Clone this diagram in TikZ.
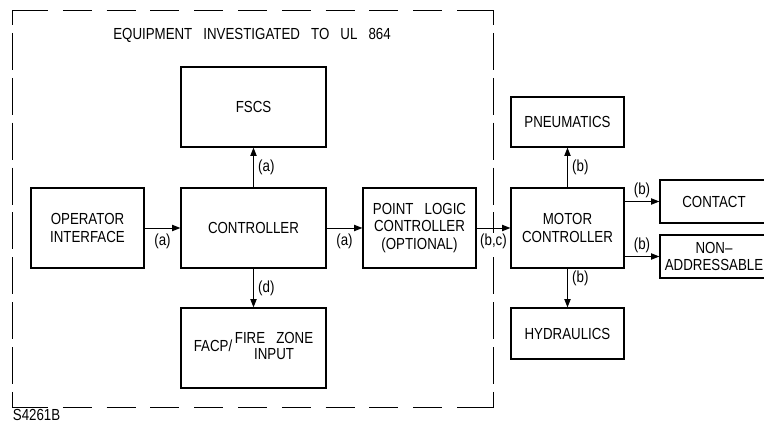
\documentclass[tikz,border=0pt]{standalone}
\usepackage{fontspec}
\setmainfont{Liberation Sans}[FakeStretch=0.83,WordSpace=3]
\usepackage{tikz}
\usetikzlibrary{arrows.meta,positioning,calc}
\definecolor{cInk}{HTML}{000000}

\begin{document}
\begin{tikzpicture}[
  font=\fontsize{11.4}{12.4}\selectfont,
  ar/.style={-{Triangle[length=6pt,width=4.5pt]},line width=0.7pt,color=cInk},
  edge/.style={line width=0.7pt,color=cInk},
  hdash/.style={edge,dash pattern=on 0.725cm off 0.37cm,dash phase=0.725cm},
  vdash/.style={edge,dash pattern=on 0.925cm off 0.1975cm,dash phase=0.925cm},
  blk/.style={draw,line width=0.8pt,color=cInk,align=center,inner sep=2pt,
              minimum width=2.825cm,minimum height=2cm},
  wide/.style={blk,minimum width=3.625cm},
  flat/.style={blk,minimum width=2.7cm,minimum height=1.075cm},
  lbl/.style={inner sep=1pt,color=cInk},
]
\useasboundingbox (0,0) rectangle (19.1,10.675);

% ====================================================== UL 864 frame
% corners solid, sides dashed
\draw[edge] (0.3,10.05) |- (1.2,10.425);
\draw[edge] (0.3,0.875) |- (1.2,0.5);
\draw[edge] (12.325,10.05) |- (11.425,10.425);
\draw[edge] (12.325,0.875) |- (11.425,0.5);
\foreach \y in {10.425,0.5}
  \draw[hdash] (1.2,\y) -- (11.425,\y);
\foreach \x in {0.3,12.325}
  \draw[vdash] (\x,10.05) -- (\x,0.875);
\node[lbl] (title) at (6.3,9.8) {EQUIPMENT INVESTIGATED TO UL 864};

% -- inside the frame
\node[blk]  (oper) at (2.1875,4.975) {OPERATOR\\INTERFACE};
\node[wide] (ctrl) at (6.3375,4.975) {CONTROLLER};
\node[wide] (fscs) at (6.3375,8.0) {FSCS};
\node[wide] (facp) at (6.3375,1.975)
  {FACP/\,\begin{tabular}{@{}c@{}}FIRE ZONE\\[-1pt]INPUT\end{tabular}};
\node[blk]  (plc)  at (10.4875,4.975) {POINT LOGIC\\CONTROLLER\\(OPTIONAL)};

% -- outside the frame
\node[blk] (motor) at (14.1875,4.975) {MOTOR\\CONTROLLER};
\node[blk,minimum height=1.25cm]  (pneu) at (14.1875,7.625) {PNEUMATICS};
\node[blk,minimum height=1.275cm] (hydr) at (14.1875,2.3375) {HYDRAULICS};
\node[flat] (contact) at (17.85,5.6375) {CONTACT};
\node[flat] (nonadd)  at (17.85,4.2625) {NON--\\ADDRESSABLE};

% flow arrows
\draw[ar] (oper.east) -- (ctrl.west) node[midway,below=3pt,lbl]{(a)};
\draw[ar] (ctrl.north) -- (fscs.south) node[midway,right=2pt,lbl]{(a)};
\draw[ar] (ctrl.south) -- (facp.north) node[midway,right=2pt,lbl]{(d)};
\draw[ar] (ctrl.east) -- (plc.west) node[midway,below=3pt,lbl]{(a)};
\draw[ar] (plc.east) -- (motor.west) node[midway,below=3pt,lbl,fill=white]{(b,c)};
\draw[ar] (motor.north) -- (pneu.south) node[midway,right=2pt,lbl]{(b)};
\draw[ar] (motor.south) -- (hydr.north) node[pos=0.25,right=2pt,lbl]{(b)};
\draw[ar] (motor.east |- contact.west) -- (contact.west) node[midway,above=1pt,lbl]{(b)};
\draw[ar] (motor.east |- nonadd.west) -- (nonadd.west) node[midway,above=1pt,lbl]{(b)};

% drawing number
\node[lbl,anchor=west] (dwg) at (0.28,0.3) {S4261B};

\end{tikzpicture}
\end{document}
